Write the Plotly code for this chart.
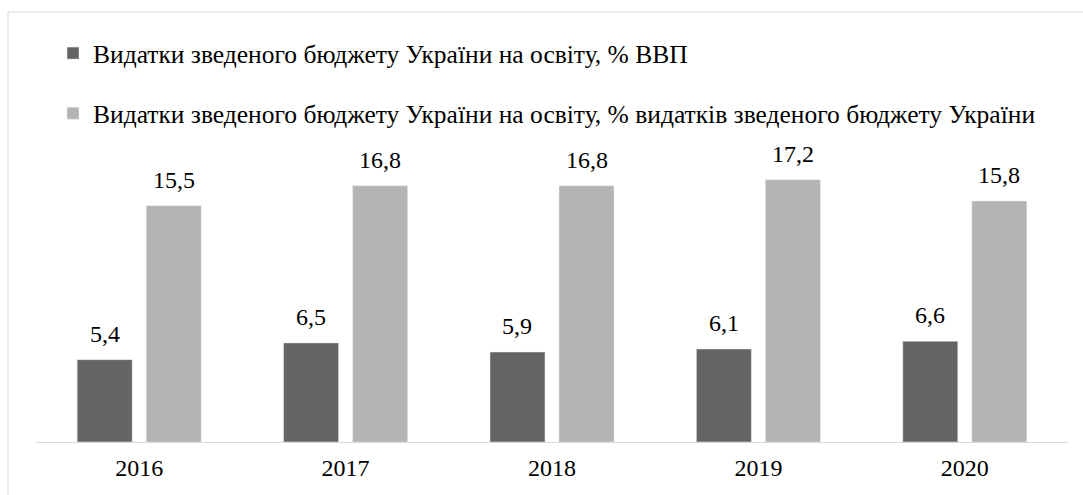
import plotly.graph_objects as go

years = ["2016", "2017", "2018", "2019", "2020"]
gdp_share = [5.4, 6.5, 5.9, 6.1, 6.6]
budget_share = [15.5, 16.8, 16.8, 17.2, 15.8]
name_gdp = "Видатки зведеного бюджету України на освіту, % ВВП"
name_budget = "Видатки зведеного бюджету України на освіту, % видатків зведеного бюджету України"

FONT = "Liberation Serif"
W, H = 1083, 495
ML, MR, MT, MB = 36, 15, 137, 53
BARGAP = 0.331
BARGROUPGAP = 0.203
C_DARK = "#646464"
C_LIGHT = "#b4b4b4"

fig = go.Figure()
fig.add_trace(go.Bar(x=years, y=gdp_share, name=name_gdp, marker_color=C_DARK,
                     legendgroup="a", hoverinfo="y"))
fig.add_trace(go.Bar(x=years, y=budget_share, name=name_budget, marker_color=C_LIGHT,
                     legendgroup="b", hoverinfo="y"))

def fmt(v):
    return f"{v:.1f}".replace(".", ",")

off = (1 - BARGAP) / 4
annotations = []
for i, (a, b) in enumerate(zip(gdp_share, budget_share)):
    for xv, v in ((i - off, a), (i + off, b)):
        annotations.append(dict(x=xv, y=v, xref="x", yref="y", text=fmt(v),
                                showarrow=False, yanchor="bottom", yshift=11,
                                font=dict(family=FONT, size=24, color="#000000")))

pw = W - ML - MR
ph = H - MT - MB
fig.update_layout(
    width=W, height=H,
    margin=dict(l=ML, r=MR, t=MT, b=MB, pad=0),
    paper_bgcolor="white", plot_bgcolor="white",
    barmode="group", bargap=BARGAP, bargroupgap=BARGROUPGAP,
    font=dict(family=FONT, size=24, color="#000000"),
    showlegend=True,
    legend=dict(x=(53 - ML) / pw, xanchor="left", y=(H - MB - 30) / ph, yanchor="top",
                yref="paper", traceorder="grouped", tracegroupgap=24,
                font=dict(family=FONT, size=25.5, color="#000000"),
                bgcolor="rgba(0,0,0,0)", itemclick=False),
    xaxis=dict(type="category", showline=True, linecolor="#d9d9d9", linewidth=1,
               showgrid=False, ticks="", tickfont=dict(family=FONT, size=24),
               ticklabelstandoff=4, zeroline=False),
    yaxis=dict(range=[0, 20], visible=False, showgrid=False, zeroline=False),
    annotations=annotations,
    shapes=[dict(type="rect", xref="paper", yref="paper",
                 x0=(8 - ML) / pw, x1=1.2, y0=-0.6, y1=(H - MB - 12) / ph,
                 line=dict(color="#d9d9d9", width=1), fillcolor="rgba(0,0,0,0)",
                 layer="below")],
)

fig.write_html("out.html", config={"displayModeBar": False},
               post_script="document.body.style.margin='0px';")
